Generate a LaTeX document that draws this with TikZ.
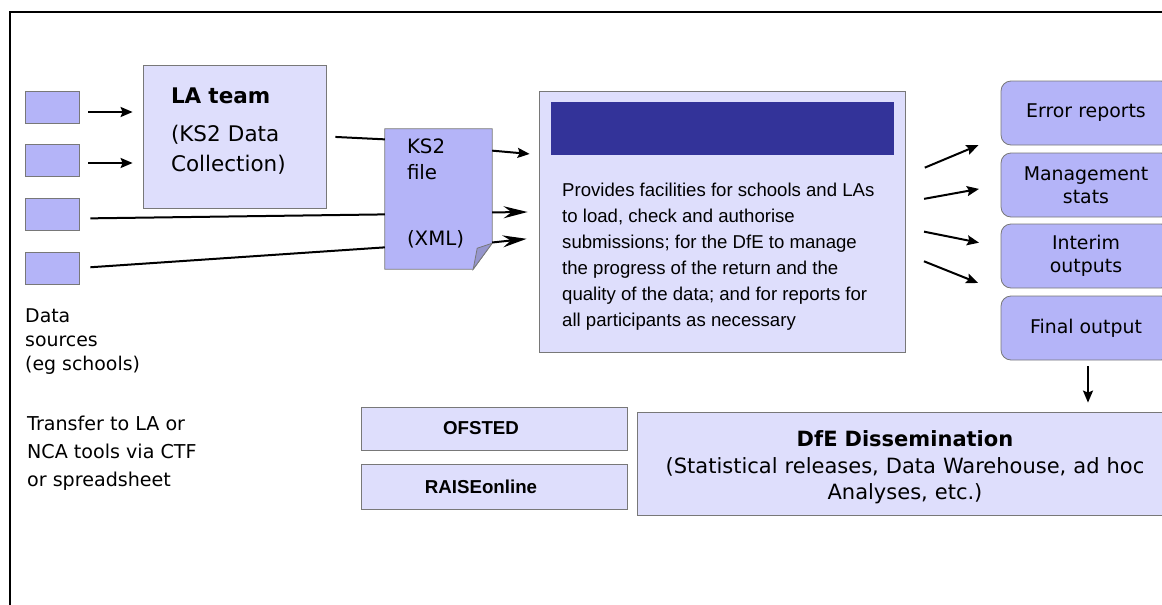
\documentclass[tikz,border=0pt]{standalone}
\usepackage{fontspec}
\setmainfont{DejaVu Sans}
\newfontfamily\arialfont{Liberation Sans}
\usepackage{tikz}
\usetikzlibrary{arrows.meta,backgrounds}

\definecolor{srcblue}{RGB}{180,180,248}
\definecolor{paleblue}{RGB}{222,222,252}
\definecolor{barblue}{RGB}{51,51,153}
\definecolor{edgegray}{RGB}{120,120,120}
\definecolor{foldblue}{RGB}{150,150,205}

\begin{document}
\begin{tikzpicture}[x=1pt, y=-1pt,
        font=\fontsize{18.9}{22.5}\selectfont,
        src/.style={rectangle, draw=edgegray, fill=srcblue, line width=0.8pt, minimum width=54pt, minimum height=32pt, inner sep=0pt},
        pale/.style={rectangle, draw=edgegray, fill=paleblue, line width=0.8pt, inner sep=0pt},
        outbox/.style={rectangle, rounded corners=10pt, draw=edgegray, fill=srcblue, line width=0.8pt, minimum width=170pt, minimum height=64pt, inner sep=0pt, align=center},
        wire/.style={line width=2pt},
        tip/.style={wire, -{Stealth[length=12pt, width=10pt, inset=2pt]}},
        bigtip/.style={wire, -{Stealth[length=24pt, width=12pt, inset=8pt]}}]
        \useasboundingbox (0,0) rectangle (1162,605);
        \clip (0,0) rectangle (1162,605);

        \draw[line width=2.5pt] (10,610) -- (10,12) -- (1170,12);

        \foreach \i/\y in {1/107, 2/160.5, 3/214.5, 4/268}
            \node[src] (s\i) at (52,\y) {};

        \node[pale, minimum width=183pt, minimum height=143pt, text width=127pt, inner xsep=28pt, align=left, text height=5pt, font=\fontsize{21.5}{30}\selectfont] (la) at (234.5,136.5) {\textbf{LA team}\\[8pt](KS2 Data\\Collection)};

        \node[minimum width=107pt, minimum height=140pt, text width=63pt, inner xsep=22pt, inner ysep=0pt, align=left, text height=4.6pt, font=\fontsize{19.8}{26}\selectfont] (ks2) at (438.5,199) {KS2\\file\\[40pt](XML)};
        \begin{scope}[on background layer]
            \filldraw[fill=srcblue, draw=edgegray, line width=0.8pt] (ks2.north west) -- (ks2.north east) -- ([yshift=26pt]ks2.south east) -- ([xshift=-19pt]ks2.south east) -- (ks2.south west) -- cycle;
            \filldraw[fill=foldblue, draw=edgegray, line width=0.8pt] ([yshift=26pt]ks2.south east) -- ([xshift=-19pt]ks2.south east) -- ([xshift=-15pt, yshift=21pt]ks2.south east) -- cycle;
        \end{scope}

        \node[pale, minimum width=366pt, minimum height=261pt] (main) at (722,221.5) {};
        \node[fill=barblue, minimum width=343pt, minimum height=53pt, inner sep=0pt] (bar) at (722.5,128.5) {};
        \node[anchor=north west, align=left, inner sep=0pt, font=\arialfont\fontsize{18.6}{26}\selectfont] (desc) at (562,183.1) {Provides facilities for schools and LAs\\to load, check and authorise\\submissions; for the DfE to manage\\the progress of the return and the\\quality of the data; and for reports for\\all participants as necessary};

        \node[outbox] (o1) at (1086,113) {Error reports};
        \node[outbox] (o2) at (1086,185) {Management\\stats};
        \node[outbox] (o3) at (1086,256) {Interim\\outputs};
        \node[outbox] (o4) at (1086,328) {Final output};

        \node[pale, minimum width=536pt, minimum height=103pt, text width=520pt, inner xsep=8pt, align=center, text height=24pt, font=\fontsize{21}{26.5}\selectfont] (dfe) at (905,463.5) {\textbf{DfE Dissemination}\\(Statistical releases, Data Warehouse, ad hoc\\Analyses, etc.)};
        \node[pale, minimum width=266pt, minimum height=43pt, font=\arialfont\bfseries\fontsize{18.7}{22}\selectfont] (ofsted) at (494,428.5) {OFSTED\hspace*{26pt}};
        \node[pale, minimum width=266pt, minimum height=45pt, font=\arialfont\bfseries\fontsize{18.7}{22}\selectfont] (raise) at (494,486.5) {RAISEonline\hspace*{26pt}};

        \node[anchor=north west, align=left, inner sep=0pt, font=\fontsize{18.9}{24}\selectfont] (srclbl) at (25,308.8) {Data\\sources\\(eg schools)};
        \node[anchor=north west, align=left, inner sep=0pt, font=\fontsize{19.1}{28}\selectfont] (ctflbl) at (27,415.5) {Transfer to LA or\\NCA tools via CTF\\or spreadsheet};

        \draw[tip, shorten <=9pt, shorten >=10pt] ([yshift=-5pt]s1.east) -- ([yshift=-5pt]s1.east -| la.west);
        \draw[tip, shorten <=9pt, shorten >=10pt] ([yshift=-2.5pt]s2.east) -- ([yshift=-2.5pt]s2.east -| la.west);
        \draw[wire, shorten <=9pt] (la.east) -- (ks2.132);
        \draw[wire, shorten <=11pt] ([yshift=-4pt]s3.east) -- (ks2.196);
        \draw[wire, shorten <=11pt] (s4.east) -- (ks2.222);

        \draw[tip, shorten >=9pt] (ks2.42) -- (main.160);
        \draw[bigtip, shorten >=11pt] (ks2.-14) -- (main.177);
        \draw[bigtip, shorten >=12pt] (ks2.-39) -- (main.185);

        \draw[tip, shorten <=21pt, shorten >=24pt] (main.14) -- (o1.195);
        \draw[tip, shorten <=19pt, shorten >=22pt] (main.6) -- (o2.west);
        \draw[tip, shorten <=19pt, shorten >=22pt] (main.-2) -- (o3.174);
        \draw[tip, shorten <=20pt, shorten >=34pt] (main.-10) -- (o4.157);
        \draw[tip, shorten <=6pt, shorten >=9pt] ([xshift=2pt]o4.south) -- ([xshift=2pt]o4.south |- dfe.north);
    \end{tikzpicture}
\end{document}
